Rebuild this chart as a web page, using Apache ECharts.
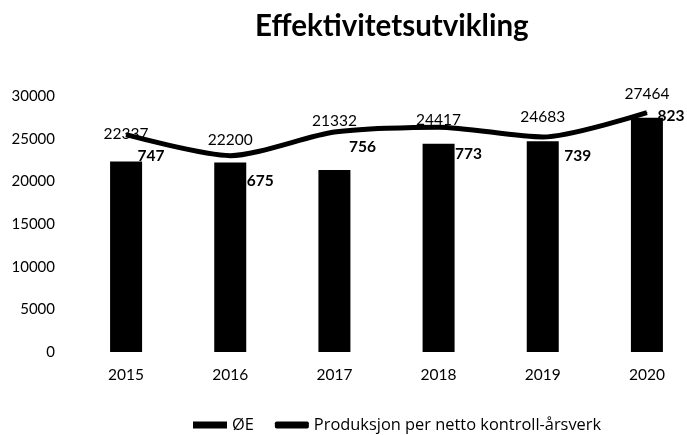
<!DOCTYPE html>
<html>
<head>
<meta charset="utf-8">
<script src="https://cdn.jsdelivr.net/npm/echarts@6/dist/echarts.min.js"></script>
<style>
  html, body { margin: 0; padding: 0; background: #fff; }
  #chart { width: 687px; height: 435px; }
</style>
</head>
<body>
<div id="chart"></div>
<script>
const years = ['2015', '2016', '2017', '2018', '2019', '2020'];
const oeValues = [22337, 22200, 21332, 24417, 24683, 27464];
const prodValues = [747, 675, 756, 773, 739, 823];

// label nudges (layout only)
const barLabelGap = [19, 15, 41, 16, 16, 16];
const lineLabelShift = [[25, 21], [30, 25], [28, 15], [30, 27], [35, 19], [24, 3]];

const font = 'Lato, "Open Sans", sans-serif';
const chart = echarts.init(document.getElementById('chart'));

const option = {
  animation: false,
  title: {
    text: 'Effektivitetsutvikling',
    left: 250,
    top: 6,
    textStyle: { fontFamily: font, fontSize: 29.5, fontWeight: 'bold', color: '#000' }
  },
  legend: {
    left: 188,
    top: 412,
    itemGap: 21,
    itemWidth: 34,
    itemHeight: 7,
    textStyle: { fontFamily: '"Open Sans", sans-serif', fontSize: 16.4, color: '#000' },
    data: [
      { name: 'ØE', icon: 'rect' },
      { name: 'Produksjon per netto kontroll-årsverk', icon: 'roundRect' }
    ]
  },
  grid: { left: 74, top: 96, width: 625, height: 256, outerBoundsMode: 'none' },
  xAxis: {
    type: 'category',
    data: years,
    axisLine: { show: false },
    axisTick: { show: false },
    axisLabel: { margin: 15, fontFamily: font, fontSize: 15.5, color: '#000' }
  },
  yAxis: [
    {
      type: 'value',
      min: 0,
      max: 30000,
      interval: 5000,
      splitLine: { show: false },
      axisLine: { show: false },
      axisTick: { show: false },
      axisLabel: {
        margin: 19,
        fontFamily: font,
        fontSize: 15,
        color: '#000',
        formatter: (v) => String(v)
      }
    },
    {
      type: 'value',
      min: 0,
      max: 880,
      show: false,
      splitLine: { show: false }
    }
  ],
  series: [
    {
      name: 'ØE',
      type: 'bar',
      barWidth: 32,
      itemStyle: { color: '#000' },
      data: oeValues.map((v, i) => ({
        value: v,
        label: { distance: barLabelGap[i] }
      })),
      label: {
        show: true,
        position: 'top',
        fontFamily: font,
        fontSize: 15.5,
        color: '#000'
      }
    },
    {
      name: 'Produksjon per netto kontroll-årsverk',
      type: 'line',
      yAxisIndex: 1,
      smooth: 0.25,
      symbol: 'circle',
      symbolSize: 1,
      lineStyle: { color: '#000', width: 5 },
      itemStyle: { color: '#000' },
      data: prodValues.map((v, i) => ({
        value: v,
        label: { offset: lineLabelShift[i] }
      })),
      label: {
        show: true,
        position: 'inside',
        fontFamily: font,
        fontSize: 15.5,
        fontWeight: 'bold',
        color: '#000'
      }
    }
  ]
};

chart.setOption(option);
</script>
</body>
</html>
